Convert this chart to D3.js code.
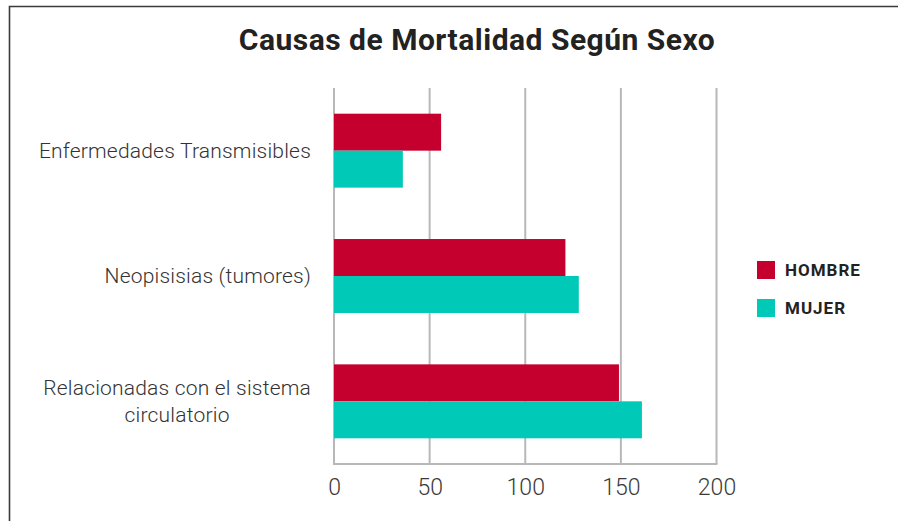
<!DOCTYPE html>
<html>
<head>
<meta charset="utf-8">
<script src="https://cdn.jsdelivr.net/npm/d3@7"></script>
<style>
  html, body { margin: 0; padding: 0; background: #fff; }
  svg { display: block; }
</style>
</head>
<body>
<svg id="chart" width="898" height="521"></svg>
<script>
const categories = [
  ["Enfermedades Transmisibles"],
  ["Neopisisias (tumores)"],
  ["Relacionadas con el sistema", "circulatorio"]
];
const seriesNames = ["HOMBRE", "MUJER"];
const hombre = [56, 121, 149];
const mujer = [36, 128, 161];
const tickValues = [0, 50, 100, 150, 200];
const colors = ["#c5002f", "#00c9b7"];

const svg = d3.select("#chart");
const font = "Roboto, 'DejaVu Sans', sans-serif";

// frame lines (top and left)
svg.append("path")
  .attr("d", "M9.5,521 L9.5,6.5 L898,6.5")
  .attr("fill", "none").attr("stroke", "#3a3a3a").attr("stroke-width", 1.6);

// title
svg.append("text")
  .attr("x", 477).attr("y", 50)
  .attr("text-anchor", "middle")
  .attr("font-family", font).attr("font-weight", 700)
  .attr("font-size", 30).attr("letter-spacing", 0.5).attr("fill", "#222")
  .text("Causas de Mortalidad Según Sexo");

const x = d3.scaleLinear().domain([0, 200]).range([334, 716.5]);
const y = d3.scaleBand().domain(d3.range(categories.length)).range([88, 464]).paddingInner(0.41).paddingOuter(0.205);
const ySub = d3.scaleBand().domain(d3.range(seriesNames.length)).range([0, y.bandwidth()]);

// gridlines
svg.append("g").selectAll("line").data(tickValues).join("line")
  .attr("x1", d => x(d)).attr("x2", d => x(d))
  .attr("y1", 88).attr("y2", 464)
  .attr("stroke", "#b8b8b8").attr("stroke-width", 2);

// bars
const data = [hombre, mujer];
categories.forEach((c, i) => {
  data.forEach((s, j) => {
    svg.append("rect")
      .attr("x", x(0))
      .attr("y", y(i) + ySub(j))
      .attr("width", x(s[i]) - x(0))
      .attr("height", ySub.bandwidth())
      .attr("fill", colors[j]);
  });
});

// bottom axis line
svg.append("line").attr("x1", x(0) - 1).attr("x2", x(200) + 1)
  .attr("y1", 464).attr("y2", 464)
  .attr("stroke", "#b8b8b8").attr("stroke-width", 2);

// x axis
const xAxis = d3.axisBottom(x).tickValues(tickValues).tickSize(0).tickPadding(0);
const gx = svg.append("g").attr("transform", "translate(0,478)").call(xAxis);
gx.select(".domain").remove();
gx.selectAll("text")
  .attr("font-family", font).attr("font-weight", 300)
  .attr("font-size", 23).attr("fill", "#3a3a3a")
  .attr("dy", "0.72em");

// category labels
categories.forEach((lines, i) => {
  const cy = y(i) + y.bandwidth() / 2;
  const lh = 27;
  const top = cy - (lines.length - 1) * lh / 2;
  const g = svg.append("g");
  const texts = lines.map((t, k) => g.append("text")
    .attr("y", top + k * lh)
    .attr("dy", "0.35em")
    .attr("font-family", font).attr("font-weight", 300)
    .attr("font-size", 21).attr("letter-spacing", 0.2).attr("fill", "#333")
    .text(t));
  const widths = texts.map(t => t.node().getComputedTextLength());
  const maxW = d3.max(widths);
  const right = 311;
  texts.forEach(t => t.attr("text-anchor", "middle").attr("x", right - maxW / 2));
});

// legend
seriesNames.forEach((n, j) => {
  const ly = 261 + j * 38;
  svg.append("rect").attr("x", 757).attr("y", ly).attr("width", 18).attr("height", 18).attr("fill", colors[j]);
  svg.append("text").attr("x", 785).attr("y", ly + 9).attr("dy", "0.36em")
    .attr("font-family", font).attr("font-weight", 700)
    .attr("font-size", 17).attr("letter-spacing", 1).attr("fill", "#222")
    .text(n);
});
</script>
</body>
</html>
